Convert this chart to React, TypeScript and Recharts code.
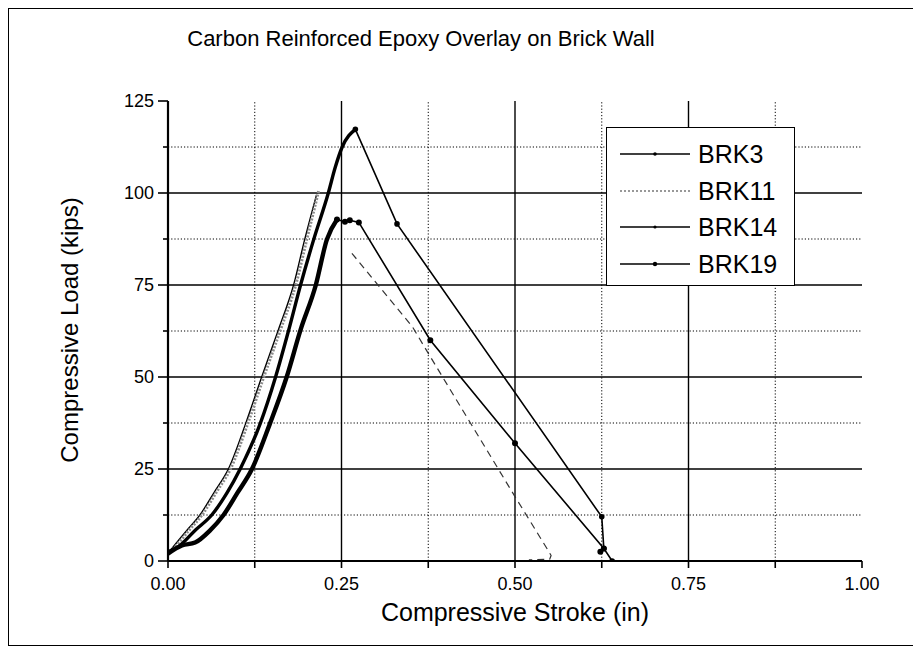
import React from "react";
import { Line, LineChart, ReferenceLine, XAxis, YAxis } from "recharts";

// grid + ticks
const xTicks = [0, 0.125, 0.25, 0.375, 0.5, 0.625, 0.75, 0.875, 1];
const yTicks = [0, 12.5, 25, 37.5, 50, 62.5, 75, 87.5, 100, 112.5, 125];
const xMajor = [0.25, 0.5, 0.75];
const xMinor = [0.125, 0.375, 0.625, 0.875];
const yMajor = [25, 50, 75, 100];
const yMinor = [12.5, 37.5, 62.5, 87.5, 112.5];

// BRK11 - loading branch (dense, dotted grey) and unloading branch (sparse)
const brk11UpX = [0, 0.006, 0.03, 0.049, 0.07, 0.09, 0.115, 0.138, 0.162, 0.184, 0.2, 0.217];
const brk11UpY = [2, 3, 8.3, 12.5, 18.8, 25, 37.4, 50, 62.8, 75, 87.4, 100.5];
const brk11DownX = [0.265, 0.352, 0.378, 0.5, 0.546, 0.552, 0.55, 0.52];
const brk11DownY = [83.6, 63.7, 55.5, 17.5, 3.4, 1.5, 0.5, 0.3];

// BRK3 - runs right along BRK11
const brk3X = [0, 0.004, 0.027, 0.046, 0.067, 0.087, 0.112, 0.135, 0.159, 0.181, 0.197, 0.214];
const brk3Y = [2, 3, 8.3, 12.5, 18.8, 25, 37.4, 50, 62.8, 75, 87.4, 99.5];

// BRK14 - peak ~117 kips
const brk14UpX = [0, 0.015, 0.04, 0.063, 0.085, 0.104, 0.133, 0.155, 0.174, 0.191, 0.21, 0.231, 0.241, 0.251, 0.27];
const brk14UpY = [2.5, 3.9, 8.5, 12.5, 18.5, 25, 37.4, 50, 62.8, 75, 87.4, 100, 107, 112.5, 117.3];
const brk14DownX = [0.27, 0.33, 0.625, 0.628, 0.64];
const brk14DownY = [117.3, 91.6, 12, 3.4, 0];

// BRK19 - peak ~93 kips
const brk19UpX = [0, 0.02, 0.039, 0.06, 0.08, 0.1, 0.121, 0.147, 0.171, 0.191, 0.213, 0.229, 0.2435];
const brk19UpY = [2, 4.2, 5, 8.2, 12.5, 18.5, 25, 37.4, 50, 62.8, 75, 87.4, 92.8];
const brk19DownX = [0.2435, 0.255, 0.262, 0.275, 0.378, 0.5, 0.628, 0.623];
const brk19DownY = [92.8, 92.2, 92.6, 92, 60, 32, 3.4, 2.5];

const legendNames = ["BRK3", "BRK11", "BRK14", "BRK19"];
const legendDash = ["", "2 2", "", ""];
const legendDot = [1.8, 0, 1.6, 2.2];

const zip = (xs: number[], ys: number[]) => xs.map((x, i) => ({ x, y: ys[i] }));

const FONT = "'Liberation Sans', Arial, Helvetica, sans-serif";

function XTick(props: any) {
  const { x, y, payload } = props;
  const v = payload.value as number;
  const major = Math.abs(v * 4 - Math.round(v * 4)) < 1e-6;
  return (
    <g>
      <line x1={x} y1={y} x2={x} y2={y + 7} stroke="#000" strokeWidth={1.6} />
      {major && (
        <text x={x} y={y + 29} textAnchor="middle" fontSize={18} fontFamily={FONT} fill="#000">
          {v.toFixed(2)}
        </text>
      )}
    </g>
  );
}

function YTick(props: any) {
  const { x, y, payload } = props;
  const v = payload.value as number;
  const major = v % 25 === 0;
  return (
    <g>
      <line x1={x} y1={y} x2={x - (major ? 10 : 5)} y2={y} stroke="#000" strokeWidth={1.6} />
      {major && (
        <text x={x - 14} y={y + 6} textAnchor="end" fontSize={18} fontFamily={FONT} fill="#000">
          {v}
        </text>
      )}
    </g>
  );
}

export default function App() {
  return (
    <div style={{ position: "relative", width: 906, height: 638, background: "#fff", fontFamily: FONT }}>
      <LineChart width={906} height={638} margin={{ top: 93, right: 52, bottom: 45, left: 100 }}>
        <XAxis
          type="number"
          dataKey="x"
          domain={[0, 1]}
          ticks={xTicks}
          height={40}
          tickSize={0}
          tickMargin={0}
          tickLine={false}
          tick={<XTick />}
          axisLine={{ stroke: "#000", strokeWidth: 2.2 }}
          allowDataOverflow
        />
        <YAxis
          type="number"
          dataKey="y"
          domain={[0, 125]}
          ticks={yTicks}
          width={60}
          tickSize={0}
          tickMargin={0}
          tickLine={false}
          tick={<YTick />}
          axisLine={{ stroke: "#000", strokeWidth: 2.2 }}
          allowDataOverflow
        />
        {xMinor.map((v) => (
          <ReferenceLine key={"xm" + v} x={v} stroke="#000" strokeWidth={1} strokeDasharray="1.2 2" />
        ))}
        {yMinor.map((v) => (
          <ReferenceLine key={"ym" + v} y={v} stroke="#000" strokeWidth={1} strokeDasharray="1.2 2" />
        ))}
        {xMajor.map((v) => (
          <ReferenceLine key={"xM" + v} x={v} stroke="#000" strokeWidth={1.4} />
        ))}
        {yMajor.map((v) => (
          <ReferenceLine key={"yM" + v} y={v} stroke="#000" strokeWidth={1.4} />
        ))}

        <Line data={zip(brk11DownX, brk11DownY)} dataKey="y" type="linear" stroke="#333" strokeWidth={1.2}
          strokeDasharray="7 5" dot={false} isAnimationActive={false} />
        <Line data={zip(brk14DownX, brk14DownY)} dataKey="y" type="linear" stroke="#000" strokeWidth={1.6}
          dot={{ r: 2, fill: "#000", stroke: "#000" }} isAnimationActive={false} />
        <Line data={zip(brk19DownX, brk19DownY)} dataKey="y" type="linear" stroke="#000" strokeWidth={1.6}
          dot={{ r: 2.2, fill: "#000", stroke: "#000" }} isAnimationActive={false} />
        <Line data={zip(brk3X, brk3Y)} dataKey="y" type="monotone" stroke="#000" strokeWidth={1.4}
          dot={false} isAnimationActive={false} />
        <Line data={zip(brk11UpX, brk11UpY)} dataKey="y" type="monotone" stroke="#8c8c8c" strokeWidth={3}
          strokeDasharray="2 1.5" dot={false} isAnimationActive={false} />
        <Line data={zip(brk14UpX, brk14UpY)} dataKey="y" type="monotone" stroke="#000" strokeWidth={3.4}
          dot={false} isAnimationActive={false} />
        <Line data={zip(brk19UpX, brk19UpY)} dataKey="y" type="monotone" stroke="#000" strokeWidth={4.4}
          dot={false} isAnimationActive={false} />
      </LineChart>

      {/* title and axis titles */}
      <div style={{ position: "absolute", left: 0, width: 826, top: 18, textAlign: "center", fontSize: 22 }}>
        Carbon Reinforced Epoxy Overlay on Brick Wall
      </div>
      <div style={{ position: "absolute", left: 0, width: 1014, top: 590, textAlign: "center", fontSize: 25 }}>
        Compressive Stroke (in)
      </div>
      <div
        style={{
          position: "absolute", left: 62 - 200, top: 322 - 15, width: 400, height: 30, textAlign: "center",
          fontSize: 24, lineHeight: "30px", transform: "rotate(-90deg)",
        }}
      >
        Compressive Load (kips)
      </div>

      {/* legend */}
      <div
        style={{
          position: "absolute", left: 598, top: 119, width: 189, height: 159, boxSizing: "border-box",
          border: "1.6px solid #000", background: "#fff",
        }}
      >
        {legendNames.map((n, i) => (
          <div key={n} style={{ position: "absolute", left: 0, top: 26 + i * 36.7 - 15, height: 30, width: 189 }}>
            <svg width={90} height={30} style={{ position: "absolute", left: 0, top: 0 }}>
              <line x1={13} y1={15} x2={83} y2={15} stroke={i === 1 ? "#777" : "#000"} strokeWidth={1.3}
                strokeDasharray={legendDash[i] || undefined} />
              {legendDot[i] > 0 && <circle cx={48} cy={15} r={legendDot[i]} fill="#000" />}
            </svg>
            <span style={{ position: "absolute", left: 91, top: 0, lineHeight: "30px", fontSize: 25 }}>{n}</span>
          </div>
        ))}
      </div>

      {/* outer frame */}
      <div style={{ position: "absolute", left: 0, top: 0, width: 906, height: 638, boxSizing: "border-box",
        border: "1.5px solid #000", pointerEvents: "none" }} />
    </div>
  );
}
